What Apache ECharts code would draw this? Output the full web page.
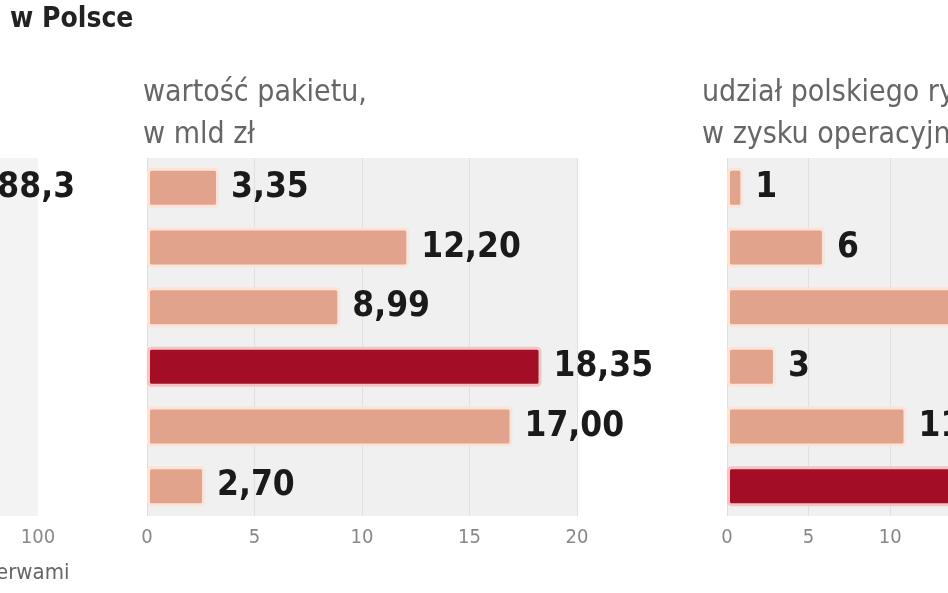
<!DOCTYPE html><html><head><meta charset="utf-8">
<script src="https://cdn.jsdelivr.net/npm/echarts@6/dist/echarts.min.js"></script>
<style>html,body{margin:0;background:#fff;overflow:hidden;width:948px;height:593px;position:relative}#c{position:absolute;left:-415px;top:0;width:1646px;height:593px}</style></head><body><div id="c"></div>
<script>
const rows = ['1','2','3','4','5','6'];
const leftValues = [88.3, 68.0, 40, 30, 20, 10];
const midValues = [3.35, 12.20, 8.99, 18.35, 17.00, 2.70];
const rightValues = [1, 6, 18, 3, 11, 22];
const highlightMid = 3, highlightRight = 5;

const OFF = 415;
const LIGHT = '#e2a38c', DARK = '#a30d26';
const lblFont = {fontFamily:'"Liberation Sans Narrow","DejaVu Sans Condensed",sans-serif',fontWeight:'bold',fontSize:35,color:'#1a1a1a'};
function mk(vals, hi){
  return vals.map((v,i)=>({value:v,itemStyle:{color:i===hi?DARK:LIGHT,borderColor:i===hi?'#f4c4c4':'#fbe3d8',borderWidth:3,borderRadius:3}}));
}
const grids=[
  {left:0,width:OFF+38,top:158,bottom:77,show:true,backgroundColor:'#f3f3f3',borderWidth:0},
  {left:OFF+147,width:430,top:158,bottom:77,show:true,backgroundColor:'#f0f0f0',borderWidth:0},
  {left:OFF+727,width:504,top:158,bottom:77,show:true,backgroundColor:'#f0f0f0',borderWidth:0}
];
const axLbl={color:'#888',fontSize:20,fontFamily:'"Liberation Sans Narrow","DejaVu Sans Condensed",sans-serif',margin:12};
const xAxis=[
  {gridIndex:0,type:'value',min:0,max:100,interval:100,axisLine:{show:false},axisTick:{show:false},splitLine:{show:false},axisLabel:{...axLbl,formatter:v=>v===100?'100':''}},
  {gridIndex:1,type:'value',min:0,max:20,interval:5,axisLine:{show:false},axisTick:{show:false},splitLine:{lineStyle:{color:'#e0e0e0'}},axisLabel:axLbl},
  {gridIndex:2,type:'value',min:0,max:30,interval:5,axisLine:{show:false},axisTick:{show:false},splitLine:{lineStyle:{color:'#e0e0e0'}},axisLabel:axLbl}
];
const yAxis=[0,1,2].map(g=>({gridIndex:g,type:'category',data:rows,inverse:true,show:false}));
function ser(i,vals,hi,fmt){return {type:'bar',xAxisIndex:i,yAxisIndex:i,data:mk(vals,hi),barWidth:40,label:{show:true,position:'right',distance:12,...lblFont,formatter:p=>fmt(p.value)}};}
const comma=(v,d)=>v.toFixed(d).replace('.',',');
const tf={type:'text',style:{fill:'#666',fontSize:30,fontFamily:'"Liberation Sans Narrow","DejaVu Sans Condensed",sans-serif'}};
echarts.init(document.getElementById('c')).setOption({
  animation:false,
  grid:grids,xAxis,yAxis,
  series:[ser(0,leftValues,-1,v=>comma(v,1)),ser(1,midValues,highlightMid,v=>comma(v,2)),ser(2,rightValues,highlightRight,v=>String(v))],
  graphic:[
    {type:'text',left:OFF+10,top:6,style:{text:'w Polsce',fill:'#222',fontSize:28,fontWeight:'bold',fontFamily:'"DejaVu Sans Condensed",sans-serif'}},
    {...tf,left:OFF+143,top:72,style:{...tf.style,text:'wartość pakietu,\nw mld zł',lineHeight:42}},
    {...tf,left:OFF+702,top:72,style:{...tf.style,text:'udział polskiego rynku\nw zysku operacyjnym',lineHeight:42}},
    {...tf,left:OFF-4,top:562,style:{...tf.style,text:'erwami',fontSize:22}}
  ]
});
</script></body></html>
